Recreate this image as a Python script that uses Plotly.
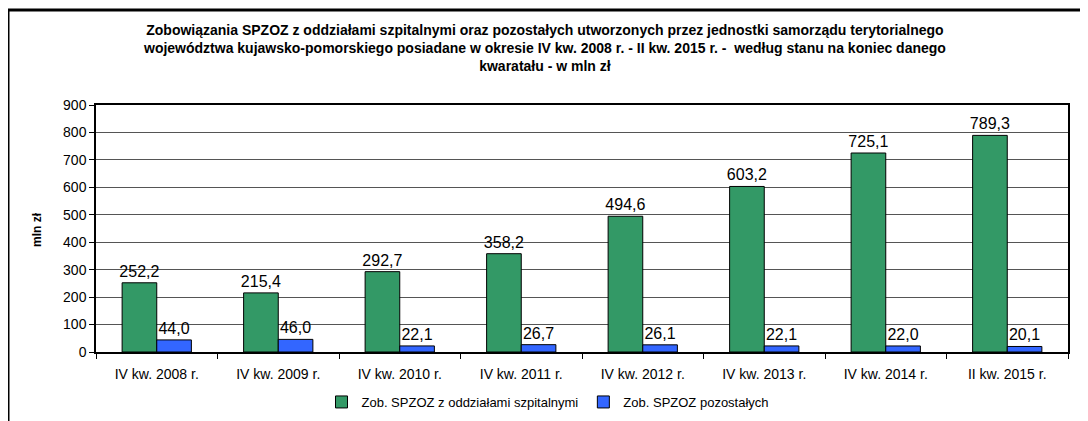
import plotly.graph_objects as go

categories = ["IV kw. 2008 r.", "IV kw. 2009 r.", "IV kw. 2010 r.", "IV kw. 2011 r.",
              "IV kw. 2012 r.", "IV kw. 2013 r.", "IV kw. 2014 r.", "II kw. 2015 r."]
szpitalne = [252.2, 215.4, 292.7, 358.2, 494.6, 603.2, 725.1, 789.3]
pozostale = [44.0, 46.0, 22.1, 26.7, 26.1, 22.1, 22.0, 20.1]
y_ticks = [0, 100, 200, 300, 400, 500, 600, 700, 800, 900]

title_lines = ["Zobowiązania SPZOZ z oddziałami szpitalnymi oraz pozostałych utworzonych przez jednostki samorządu terytorialnego",
               "województwa kujawsko-pomorskiego posiadane w okresie IV kw. 2008 r. - II kw. 2015 r. -  według stanu na koniec danego",
               "kwaratału - w mln zł"]

def fmt(v):
    return f"{v:.1f}".replace(".", ",")

FONT = "Liberation Sans, Arial, sans-serif"

fig = go.Figure()
fig.add_trace(go.Bar(
    x=categories, y=szpitalne, name="Zob. SPZOZ z oddziałami szpitalnymi",
    marker=dict(color="#339966", line=dict(color="#000000", width=1)),
    text=[fmt(v) for v in szpitalne], textposition="outside", constraintext="none",
    textfont=dict(size=16, color="#000000", family=FONT), cliponaxis=False,
))
fig.add_trace(go.Bar(
    x=categories, y=pozostale, name="Zob. SPZOZ pozostałych",
    marker=dict(color="#3366FF", line=dict(color="#000000", width=1)),
    text=[fmt(v) for v in pozostale], textposition="outside", constraintext="none",
    textfont=dict(size=16, color="#000000", family=FONT), cliponaxis=False,
))

# page body has an 8px margin: figure origin sits at (8, 8) in the window
OFF = 8
W, H = 1080, 413
L, R, T, B = 96 - OFF, W - (1068 - OFF), 105 - OFF, H - (352 - OFF)
pw = W - L - R
ph = H - T - B

def px(x):
    return (x - OFF - L) / pw

def py(y):
    return (H - B - (y - OFF)) / ph

title_text = "<br>".join("<b>" + s + "</b>" for s in title_lines)

fig.update_layout(
    width=W, height=H,
    margin=dict(l=L, r=R, t=T, b=B, autoexpand=False),
    paper_bgcolor="white", plot_bgcolor="white",
    font=dict(family=FONT, size=13, color="#000000"),
    barmode="group", bargap=0.43, bargroupgap=0,
    showlegend=True,
    legend=dict(orientation="h", x=px(548), xanchor="center", y=py(402), yanchor="middle",
                font=dict(size=13), itemwidth=30, traceorder="normal",
                bgcolor="rgba(0,0,0,0)"),
    xaxis=dict(showgrid=False, ticks="outside", tickson="boundaries", ticklen=5,
               tickcolor="#000000", showline=True, linecolor="#000000", linewidth=1.5,
               mirror=True, tickfont=dict(size=14), fixedrange=True, automargin=False,
               ticklabelstandoff=8),
    yaxis=dict(range=[0, 900], tickvals=y_ticks, showgrid=True, gridcolor="#555555",
               gridwidth=1, ticks="outside", ticklen=5, tickcolor="#000000",
               showline=True, linecolor="#000000", linewidth=1.5, mirror=True,
               tickfont=dict(size=14), zeroline=False, fixedrange=True, automargin=False),
    annotations=[
        dict(text=title_text, x=px(544), y=py(48), xref="paper", yref="paper",
             xanchor="center", yanchor="middle", showarrow=False,
             font=dict(size=14, family=FONT, color="#000000"), align="center"),
        dict(text="<b>mln zł</b>", x=px(37), y=py(230), xref="paper", yref="paper",
             xanchor="center", yanchor="middle", showarrow=False, textangle=-90,
             font=dict(size=12, family=FONT, color="#000000")),
    ],
    shapes=[
        dict(type="rect", xref="paper", yref="paper", x0=px(8), x1=px(1100),
             y0=py(440), y1=py(10), line=dict(color="#000000", width=3),
             fillcolor="rgba(0,0,0,0)", layer="above"),
    ],
)

fig.write_html("out.html")
